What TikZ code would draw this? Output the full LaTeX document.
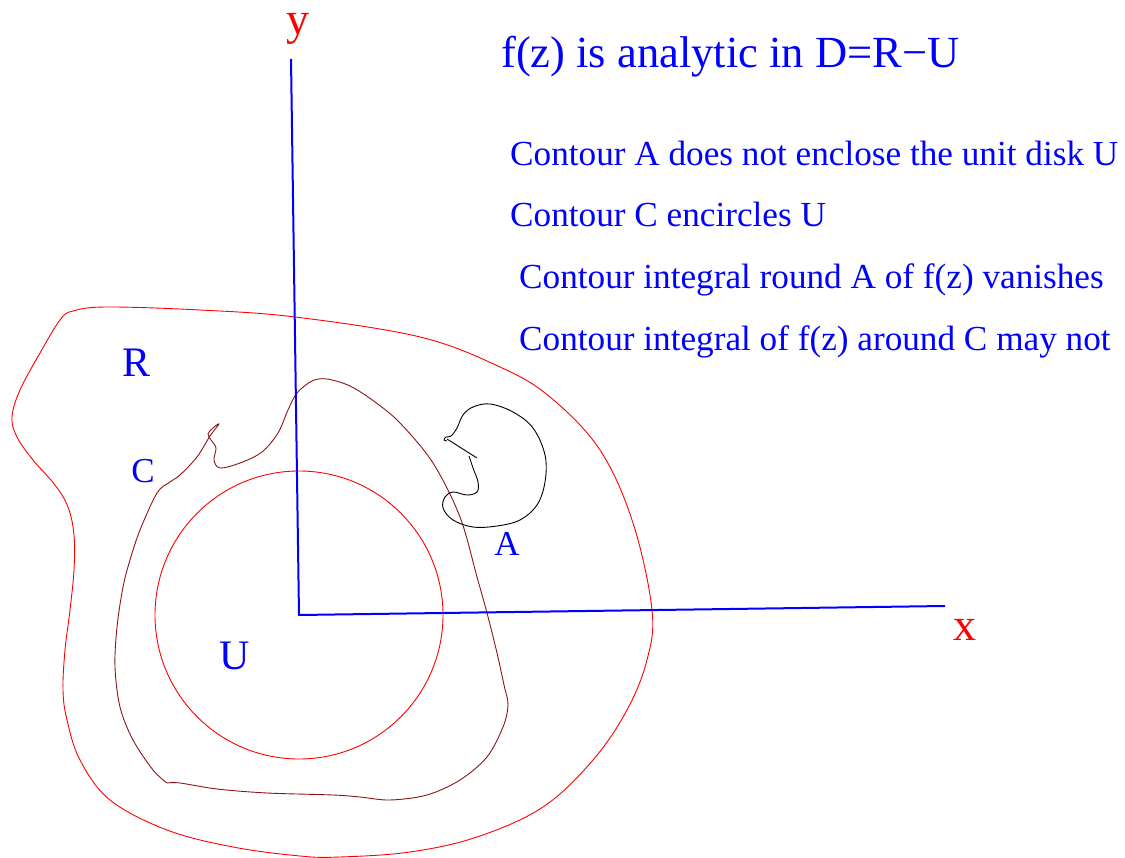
\documentclass[tikz,border=0pt]{standalone}
\usepackage{fontspec}
\setmainfont{Liberation Serif}
\usetikzlibrary{positioning}
\definecolor{axisblue}{RGB}{0,0,255}
\definecolor{regionred}{RGB}{255,0,0}
\definecolor{contourbrown}{RGB}{140,20,20}

\begin{document}
\begin{tikzpicture}[
  x=1pt, y=-1pt,
  axis/.style={draw=axisblue, line width=2pt},
  region/.style={draw=regionred, line width=0.9pt},
  contour/.style={draw=contourbrown, line width=0.9pt},
  loopA/.style={draw=black, line width=0.9pt},
  letter/.style={inner sep=0pt, text=axisblue, font=\fontsize{42}{50}\selectfont},
  small letter/.style={letter, font=\fontsize{35}{42}\selectfont},
  axislabel/.style={inner sep=0pt, text=regionred, font=\fontsize{46}{55}\selectfont},
  note/.style={inner sep=0pt, anchor=base west, text=axisblue, font=\fontsize{35.2}{42}\selectfont}
]
  \useasboundingbox (0,0) rectangle (1125,858);

  \coordinate (origin) at (299,615);
  \coordinate (ytop) at (291,59);
  \coordinate (xend) at (945,606);

  % region R
  \draw[region] plot[smooth cycle, tension=0.6] coordinates {
    (73,311) (107,307) (200,310) (295,317) (420,337) (500,367) (550,397)
    (600,450) (633,523) (652,610) (647,660) (627,710) (593,760) (543,807)
    (477,837) (410,852) (340,857) (300,856) (233,847) (167,830) (110,800)
    (80,760) (67,720) (63,690) (65,650) (70,610) (74,570) (74,535) (68,507)
    (55,485) (33,460) (17,437) (12,417) (20,390) (40,353) (60,320)};

  % unit disk U
  \draw[region] (origin) circle[radius=144];

  % contour C
  \draw[contour] plot[smooth, tension=0.55] coordinates {
    (167,783) (153,770) (133,740) (120,707) (115,667) (117,627) (123,587)
    (130,560) (140,530) (157,493) (170,482) (180,475) (197,457) (210,436)
    (219,424) (213,428) (208,434) (211,440) (216,448) (214,460) (220,468)
    (240,463) (262,452) (278,433) (288,410) (297,393) (312,381) (327,379)
    (350,386) (375,402) (400,423) (433,463) (460,517) (477,577) (487,613)
    (497,653) (504,685) (508,705) (503,727) (487,757) (460,780) (427,795)
    (390,800) (360,797) (333,795) (267,793) (217,789) (180,783) (167,783)};

  % contour A
  \draw[loopA] plot[smooth, tension=0.6] coordinates {
    (447,441) (444,440) (446,437) (451,436) (457,428) (463,415) (473,407)
    (490,404) (513,412) (533,428) (545,455) (545,482) (537,505) (520,520)
    (497,526) (473,527) (453,520) (443,508) (445,497) (453,492) (467,495)
    (477,492) (478,482) (473,468) (469,456)};
  \draw[loopA] (447,439) -- (477,458);

  % axes
  \draw[axis] (ytop) -- (origin) -- (xend);
  \node[axislabel] (ylabel) at (298,29) {y};
  \node[axislabel] (xlabel) at (965,630) {x};

  % labels
  \node[letter] (labelR) at (137,363) {R};
  \node[small letter] (labelC) at (143,471) {C};
  \node[small letter] (labelA) at (507,544) {A};
  \node[letter] (labelU) at (235,656) {U};

  \node[note, font=\fontsize{44.5}{52}\selectfont] (title) at (501,68) {f(z) is analytic in D=R−U};
  \node[note] (lineA) at (510,166) {Contour A does not enclose the unit disk U};
  \node[note] (lineC) at (510,227) {Contour C encircles U};
  \node[note] (lineAint) at (519,289) {Contour integral round A of f(z) vanishes};
  \node[note] (lineCint) at (519,351) {Contour integral of f(z) around C may not};
\end{tikzpicture}
\end{document}
